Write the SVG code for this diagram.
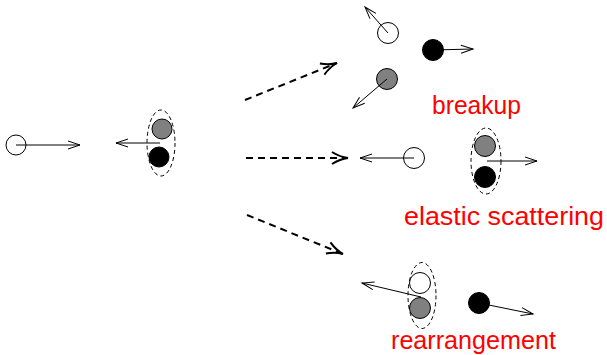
<svg xmlns="http://www.w3.org/2000/svg" width="607" height="355" viewBox="0 0 607 355">
  <style>
    .p { stroke: #000; stroke-width: 1; }
    .white { fill: #fff; }
    .grey { fill: #808080; }
    .black { fill: #000; }
    .mom { stroke: #000; stroke-width: 1; fill: none; marker-end: url(#head); }
    .flow { stroke: #000; stroke-width: 2; fill: none; stroke-dasharray: 7 5; marker-end: url(#bighead); }
    .bound { stroke: #000; stroke-width: 1; fill: none; stroke-dasharray: 4 3; }
    .lbl { font-family: "Liberation Sans", Arial, sans-serif; font-size: 26px; fill: #ff0000; }
  </style>
  <defs>
    <marker id="head" markerUnits="userSpaceOnUse" markerWidth="16" markerHeight="12" viewBox="-13 -6 16 12" refX="0" refY="0" orient="auto">
      <path d="M-12,-4 L0,0 L-12,4" fill="none" stroke="#000" stroke-width="1"/>
    </marker>
    <marker id="bighead" markerUnits="userSpaceOnUse" markerWidth="22" markerHeight="16" viewBox="-18 -8 22 16" refX="0" refY="0" orient="auto">
      <path d="M-16,-6 Q-8,-1 0,0 Q-8,1 -16,6" fill="none" stroke="#000" stroke-width="2"/>
    </marker>
  </defs>

  <!-- projectile -->
  <g id="projectile">
    <circle class="p white" cx="16" cy="145" r="10"/>
  </g>

  <!-- target nucleus -->
  <g id="target">
    <circle class="p grey" cx="162" cy="129" r="10"/>
    <circle class="p black" cx="159" cy="157" r="10"/>
    <ellipse class="bound" cx="161" cy="143" rx="14" ry="33"/>
  </g>

  <!-- breakup channel -->
  <g id="breakup">
    <circle class="p white" cx="388" cy="33" r="10.5"/>
    <circle class="p black" cx="433" cy="50" r="10.5"/>
    <circle class="p grey" cx="387" cy="79" r="10.5"/>
    <text class="lbl" x="432" y="114" textLength="89" lengthAdjust="spacingAndGlyphs">breakup</text>
  </g>

  <!-- elastic channel -->
  <g id="elastic">
    <circle class="p white" cx="414" cy="158" r="10.5"/>
    <circle class="p grey" cx="485" cy="146" r="10.5"/>
    <circle class="p black" cx="485" cy="177" r="10.5"/>
    <ellipse class="bound" cx="486" cy="161" rx="15" ry="33"/>
    <text class="lbl" x="404" y="225" textLength="200" lengthAdjust="spacingAndGlyphs">elastic scattering</text>
  </g>

  <!-- rearrangement channel -->
  <g id="rearrangement">
    <circle class="p white" cx="420" cy="283" r="10.5"/>
    <circle class="p grey" cx="420" cy="308" r="10.5"/>
    <ellipse class="bound" cx="422" cy="295.5" rx="14" ry="33"/>
    <circle class="p black" cx="479" cy="303" r="10.5"/>
    <text class="lbl" x="391" y="349" textLength="165" lengthAdjust="spacingAndGlyphs">rearrangement</text>
  </g>

  <!-- connectors: reaction channels and momentum arrows, drawn from particle centres -->
  <g id="connectors">
    <line class="flow" x1="245" y1="100" x2="337" y2="63"/>
    <line class="flow" x1="246" y1="158" x2="348" y2="158"/>
    <line class="flow" x1="247" y1="215" x2="343" y2="254"/>

    <line class="mom" x1="16" y1="145" x2="80" y2="145"/>
    <line class="mom" x1="160" y1="143" x2="116" y2="143"/>
    <line class="mom" x1="388" y1="33" x2="365" y2="7"/>
    <line class="mom" x1="433" y1="50" x2="473" y2="49"/>
    <line class="mom" x1="387" y1="79" x2="353" y2="108"/>
    <line class="mom" x1="414" y1="158" x2="360" y2="158"/>
    <line class="mom" x1="487" y1="161" x2="537" y2="161"/>
    <line class="mom" x1="421" y1="297" x2="362" y2="283"/>
    <line class="mom" x1="479" y1="303" x2="533" y2="314"/>
  </g>
</svg>
